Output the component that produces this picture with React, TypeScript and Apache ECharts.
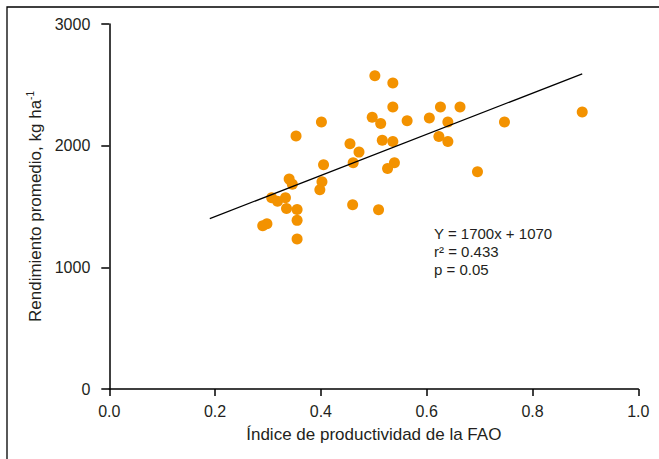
import React, { useEffect, useRef } from "react";
import * as echarts from "echarts";

// FAO productivity index (x) vs mean yield kg/ha (y)
const xValues: number[] = [
  0.502, 0.536, 0.536, 0.401, 0.497, 0.513, 0.353, 0.455, 0.472, 0.516,
  0.536, 0.461, 0.539, 0.526, 0.405, 0.340, 0.346, 0.402, 0.398, 0.307,
  0.318, 0.333, 0.335, 0.355, 0.355, 0.290, 0.298, 0.355, 0.460, 0.509,
  0.563, 0.605, 0.626, 0.663, 0.640, 0.623, 0.640, 0.747, 0.894, 0.696,
];
const yValues: number[] = [
  2575, 2515, 2317, 2194, 2233, 2183, 2079, 2016, 1947, 2044,
  2035, 1859, 1859, 1813, 1843, 1725, 1682, 1703, 1637, 1572,
  1544, 1572, 1484, 1476, 1386, 1341, 1358, 1232, 1514, 1473,
  2205, 2227, 2317, 2317, 2194, 2076, 2035, 2194, 2276, 1785,
];
// Regression line end points (Y = 1700x + 1070)
const lineX: number[] = [0.19, 0.894];
const lineY: number[] = [1400, 2590];

const xTicks = { min: 0, max: 1, interval: 0.2 };
const yTicks = { min: 0, max: 3000, interval: 1000 };

const annotation: string[] = ["Y = 1700x + 1070", "r² = 0.433", "p = 0.05"];

const FONT = "Arial, 'Liberation Sans', sans-serif";
const TEXT = "#231f20";

export default function App() {
  const ref = useRef<HTMLDivElement>(null);
  useEffect(() => {
    if (!ref.current) return;
    const chart = echarts.init(ref.current, undefined, { renderer: "svg" });
    const points = xValues.map((x, i) => [x, yValues[i]]);
    const line = lineX.map((x, i) => [x, lineY[i]]);
    chart.setOption({
      animation: false,
      backgroundColor: "#ffffff",
      textStyle: { fontFamily: FONT },
      grid: { left: 109.3, right: 20.7, top: 24, bottom: 70 },
      xAxis: {
        type: "value",
        min: xTicks.min,
        max: xTicks.max,
        interval: xTicks.interval,
        name: "Índice de productividad de la FAO",
        nameLocation: "middle",
        nameGap: 37,
        nameTextStyle: { fontSize: 17, color: TEXT, fontFamily: FONT },
        axisLine: { show: true, lineStyle: { color: "#000", width: 1.5 } },
        axisTick: { show: true, length: 7, lineStyle: { color: "#000", width: 1.5 } },
        axisLabel: {
          fontSize: 16,
          color: TEXT,
          margin: 14,
          fontFamily: FONT,
          formatter: (v: number) => v.toFixed(1),
        },
        splitLine: { show: false },
      },
      yAxis: {
        type: "value",
        min: yTicks.min,
        max: yTicks.max,
        interval: yTicks.interval,
        name: "Rendimiento promedio, kg ha{sup|-1}",
        nameLocation: "middle",
        nameGap: 61,
        nameRotate: 90,
        nameTextStyle: {
          fontSize: 17,
          color: TEXT,
          fontFamily: FONT,
          rich: {
            sup: { fontSize: 10, color: TEXT, fontFamily: FONT, verticalAlign: "top", lineHeight: 20 },
          },
        },
        axisLine: { show: true, lineStyle: { color: "#000", width: 1.5 } },
        axisTick: { show: true, length: 8, lineStyle: { color: "#000", width: 1.5 } },
        axisLabel: {
          fontSize: 16,
          color: TEXT,
          margin: 19,
          fontFamily: FONT,
          formatter: (v: number) => String(v),
        },
        splitLine: { show: false },
      },
      series: [
        {
          type: "scatter",
          data: points,
          symbol: "circle",
          symbolSize: 11,
          itemStyle: { color: "#F39200", opacity: 1 },
          z: 3,
        },
        {
          type: "line",
          data: line,
          showSymbol: false,
          symbol: "none",
          lineStyle: { color: "#000", width: 1.2 },
          z: 4,
        },
      ],
      graphic: [
        {
          type: "rect",
          shape: { x: 7, y: 7, width: 800, height: 800 },
          style: { fill: "none", stroke: "#000", lineWidth: 1.3 },
          silent: true,
          z: -1,
        },
        ...annotation.map((t, i) => ({
          type: "text",
          x: 434,
          y: 233.3 + i * 18,
          style: {
            text: t,
            fontSize: 15,
            fontFamily: FONT,
            fill: TEXT,
            verticalAlign: "middle",
            align: "left",
          },
        })),
      ],
    });
    return () => chart.dispose();
  }, []);
  return (
    <div
      ref={ref}
      style={{ position: "absolute", left: 0, top: 0, width: 659, height: 459 }}
    />
  );
}
